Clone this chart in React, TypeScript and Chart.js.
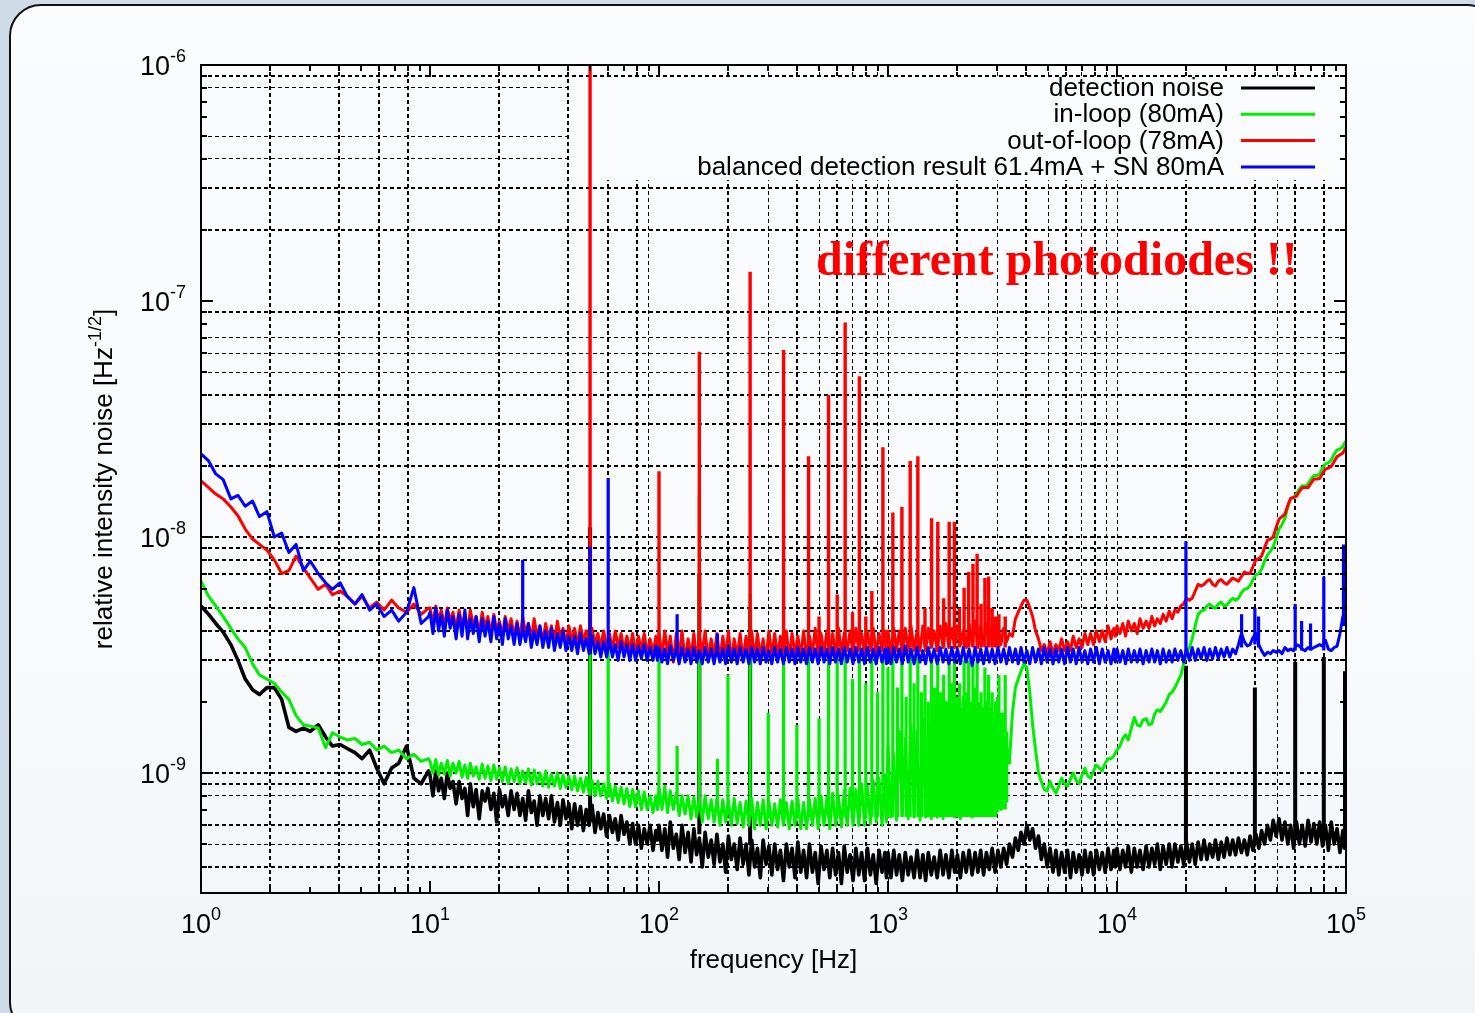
import React, { useEffect, useRef } from "react";
import { Chart, registerables } from "chart.js";
Chart.register(...registerables);

const SANS = '"Liberation Sans", Arial, Helvetica, sans-serif';
const SERIF = '"Liberation Serif", "Times New Roman", serif';

// ---- frequency grid (Hz) ----
const mantFirst = [1, 1.08, 1.16, 1.25, 1.35, 1.45, 1.56, 1.68, 1.8, 1.94, 2.09, 2.25, 2.42, 2.6, 2.8, 3.0, 3.25, 3.5, 3.75, 4.05, 4.35, 4.7, 5.05, 5.45, 5.85, 6.3, 6.8, 7.3, 7.9, 8.5, 9.15, 9.85];
const mantDecade = [
  1, 1.03, 1.06, 1.09, 1.12, 1.155, 1.19, 1.225, 1.26, 1.3,
  1.34, 1.38, 1.42, 1.46, 1.5, 1.545, 1.59, 1.64, 1.69, 1.74,
  1.79, 1.845, 1.9, 1.955, 2.01, 2.07, 2.13, 2.195, 2.26, 2.33,
  2.4, 2.47, 2.54, 2.615, 2.69, 2.77, 2.85, 2.935, 3.02, 3.11,
  3.2, 3.295, 3.39, 3.495, 3.6, 3.705, 3.81, 3.925, 4.04, 4.16,
  4.28, 4.41, 4.54, 4.675, 4.81, 4.955, 5.1, 5.255, 5.41, 5.57,
  5.73, 5.905, 6.08, 6.26, 6.44, 6.635, 6.83, 7.035, 7.24, 7.455,
  7.67, 7.9, 8.13, 8.375, 8.62, 8.88, 9.14, 9.415, 9.69, 9.845,
];
const decadeStarts = [10, 100, 1000, 10000];
const lastFreq = 100000;

// ---- series values, units of 1e-9 Hz^-1/2 ----
// detection noise (black)
const blackD1 = [5.1, 4.7, 4.3, 3.95, 3.5, 3.0, 2.5, 2.25, 2.15, 2.3, 2.3, 2.05, 1.56, 1.5, 1.55, 1.5, 1.6, 1.42, 1.3, 1.32, 1.27, 1.22, 1.15, 1.25, 1.05, 0.9, 1.05, 1.1, 1.3, 0.95, 0.9, 1.02];
const blackD2 = [
  0.98, 0.8, 1.02, 0.84, 0.95, 0.78, 1.0, 0.86, 0.92, 0.74,
  0.92, 0.78, 0.86, 0.66, 0.9, 0.72, 0.85, 0.64, 0.84, 0.76,
  0.86, 0.7, 0.82, 0.62, 0.85, 0.72, 0.8, 0.66, 0.84, 0.7,
  0.82, 0.66, 0.78, 0.63, 0.84, 0.68, 0.76, 0.6, 0.8, 0.66,
  0.78, 0.64, 0.8, 0.62, 0.75, 0.6, 0.77, 0.64, 0.74, 0.58,
  0.74, 0.6, 0.72, 0.57, 0.7, 0.6, 0.73, 0.56, 0.68, 0.58,
  0.67, 0.54, 0.66, 0.56, 0.64, 0.52, 0.66, 0.55, 0.62, 0.5,
  0.61, 0.5, 0.6, 0.48, 0.58, 0.5, 0.6, 0.47, 0.57, 0.52,
];
const blackD3 = [
  0.6, 0.47, 0.58, 0.44, 0.62, 0.48, 0.55, 0.43, 0.6, 0.46,
  0.56, 0.42, 0.58, 0.45, 0.53, 0.4, 0.56, 0.44, 0.52, 0.41,
  0.55, 0.42, 0.5, 0.38, 0.54, 0.43, 0.5, 0.39, 0.53, 0.41,
  0.5, 0.37, 0.52, 0.4, 0.48, 0.36, 0.52, 0.41, 0.49, 0.37,
  0.5, 0.39, 0.47, 0.35, 0.5, 0.4, 0.48, 0.36, 0.51, 0.38,
  0.47, 0.36, 0.5, 0.38, 0.46, 0.34, 0.49, 0.39, 0.47, 0.36,
  0.48, 0.37, 0.46, 0.34, 0.49, 0.38, 0.45, 0.35, 0.48, 0.37,
  0.46, 0.35, 0.48, 0.37, 0.45, 0.34, 0.47, 0.38, 0.46, 0.36,
];
const blackD4 = [
  0.46, 0.36, 0.47, 0.37, 0.45, 0.35, 0.46, 0.37, 0.44, 0.36,
  0.47, 0.36, 0.45, 0.35, 0.46, 0.37, 0.44, 0.36, 0.47, 0.37,
  0.45, 0.36, 0.47, 0.38, 0.45, 0.36, 0.46, 0.38, 0.47, 0.37,
  0.46, 0.38, 0.47, 0.37, 0.46, 0.39, 0.48, 0.38, 0.47, 0.4,
  0.48, 0.41, 0.5, 0.44, 0.53, 0.47, 0.56, 0.5, 0.6, 0.52,
  0.58, 0.48, 0.54, 0.43, 0.5, 0.4, 0.48, 0.38, 0.47, 0.37,
  0.46, 0.38, 0.47, 0.36, 0.46, 0.38, 0.45, 0.37, 0.47, 0.38,
  0.46, 0.37, 0.47, 0.39, 0.46, 0.38, 0.48, 0.39, 0.47, 0.4,
];
const blackD5 = [
  0.48, 0.39, 0.47, 0.4, 0.49, 0.38, 0.48, 0.4, 0.47, 0.39,
  0.49, 0.4, 0.48, 0.41, 0.5, 0.39, 0.49, 0.41, 0.5, 0.4,
  0.5, 0.42, 0.49, 0.41, 0.51, 0.42, 0.5, 0.41, 0.51, 0.43,
  0.52, 0.43, 0.5, 0.44, 0.52, 0.43, 0.51, 0.44, 0.53, 0.45,
  0.52, 0.45, 0.53, 0.46, 0.52, 0.45, 0.54, 0.47, 0.55, 0.48,
  0.57, 0.5, 0.6, 0.52, 0.63, 0.54, 0.64, 0.52, 0.62, 0.5,
  0.6, 0.48, 0.62, 0.5, 0.6, 0.49, 0.63, 0.51, 0.61, 0.5,
  0.62, 0.49, 0.6, 0.47, 0.62, 0.5, 0.58, 0.46, 0.57, 0.48,
  0.52,
];

// in-loop (green)
const greenD1 = [6.5, 5.6, 5.1, 4.6, 4.1, 3.7, 3.4, 2.9, 2.6, 2.5, 2.4, 2.2, 2.05, 1.75, 1.6, 1.58, 1.55, 1.28, 1.48, 1.42, 1.38, 1.4, 1.32, 1.35, 1.25, 1.3, 1.22, 1.25, 1.15, 1.2, 1.12, 1.15];
const greenD2 = [
  1.12, 1.0, 1.14, 0.98, 1.1, 0.99, 1.13, 0.97, 1.1, 1.0,
  1.12, 0.96, 1.08, 0.95, 1.1, 0.97, 1.06, 0.94, 1.09, 0.95,
  1.07, 0.93, 1.08, 0.94, 1.05, 0.92, 1.06, 0.9, 1.04, 0.92,
  1.05, 0.9, 1.02, 0.91, 1.04, 0.89, 1.03, 0.9, 1.0, 0.88,
  1.02, 0.87, 0.99, 0.88, 1.0, 0.86, 0.98, 0.87, 0.97, 0.85,
  0.97, 0.84, 0.95, 0.83, 0.96, 0.82, 0.93, 0.8, 0.92, 0.8,
  0.9, 0.78, 0.9, 0.76, 0.88, 0.75, 0.87, 0.74, 0.86, 0.72,
  0.85, 0.72, 0.84, 0.7, 0.83, 0.7, 0.8, 0.68, 0.8, 0.7,
];
const greenD3 = [
  0.86, 0.7, 0.88, 0.68, 0.84, 0.7, 0.82, 0.66, 0.8, 0.67,
  0.8, 0.64, 0.79, 0.65, 0.78, 0.62, 0.8, 0.64, 0.77, 0.62,
  0.78, 0.6, 0.77, 0.62, 0.76, 0.6, 0.78, 0.61, 0.75, 0.59,
  0.76, 0.6, 0.78, 0.58, 0.75, 0.6, 0.77, 0.58, 0.76, 0.6,
  0.74, 0.59, 0.77, 0.6, 0.75, 0.58, 0.76, 0.6, 0.78, 0.58,
  0.75, 0.58, 0.77, 0.6, 0.78, 0.58, 0.8, 0.6, 0.79, 0.58,
  0.82, 0.6, 0.8, 0.59, 0.84, 0.6, 0.86, 0.6, 0.85, 0.6,
  0.9, 0.6, 0.88, 0.61, 0.93, 0.62, 0.95, 0.6, 0.98, 0.62,
];
const greenD4 = [
  1.3, 0.65, 1.2, 0.63, 1.5, 0.66, 1.4, 0.64, 1.6, 0.65,
  1.5, 0.63, 1.7, 0.65, 1.6, 0.64, 1.8, 0.65, 1.7, 0.64,
  2.0, 0.66, 1.8, 0.65, 1.9, 0.64, 2.1, 0.66, 2.0, 0.65,
  2.1, 0.66, 1.9, 0.67, 2.0, 0.68, 1.8, 0.69, 1.7, 0.7,
  1.5, 1.3, 1.1, 1.8, 2.3, 2.5, 2.7, 2.9, 2.8, 2.2,
  1.6, 1.25, 1.0, 0.92, 0.85, 0.84, 0.92, 0.86, 0.82, 0.88,
  0.95, 0.9, 0.88, 0.94, 1.0, 0.93, 0.9, 0.98, 1.05, 0.97,
  0.95, 1.02, 1.08, 1.05, 1.02, 1.1, 1.15, 1.15, 1.18, 1.22,
];
const greenD5 = [
  1.25, 1.3, 1.4, 1.45, 1.38, 1.55, 1.72, 1.6, 1.58, 1.68,
  1.7, 1.6, 1.62, 1.78, 1.85, 1.82, 1.9, 2.0, 2.15, 2.2,
  2.3, 2.45, 2.6, 2.9, 3.2, 3.4, 3.7, 4.2, 4.7, 4.85,
  4.9, 5.1, 5.2, 5.05, 5.0, 5.2, 5.3, 5.1, 5.15, 5.35,
  5.5, 5.4, 5.5, 5.8, 6.0, 6.05, 6.2, 6.6, 6.9, 7.0,
  7.3, 7.9, 8.4, 8.7, 9.1, 9.9, 10.8, 11.3, 12.0, 13.4,
  14.5, 14.7, 15.2, 16.0, 16.5, 16.4, 16.8, 17.6, 18.2, 18.2,
  18.5, 19.6, 20.4, 20.6, 21.2, 22.4, 23.4, 23.6, 24.2, 25.0,
  25.5,
];

// out-of-loop (red)
const redD1 = [17.3, 16.2, 15.2, 14.5, 13.4, 12.3, 10.8, 9.8, 9.3, 8.8, 8.0, 7.0, 7.2, 8.3, 7.4, 6.7, 6.0, 6.3, 5.7, 5.9, 5.6, 5.2, 5.6, 5.0, 5.3, 4.9, 5.4, 5.0, 4.8, 5.2, 4.7, 5.0];
const redD2 = [
  5.0, 4.3, 5.1, 4.4, 4.9, 4.2, 5.0, 4.4, 4.8, 4.1,
  4.9, 4.2, 4.7, 4.0, 4.9, 4.2, 4.6, 3.9, 4.8, 4.1,
  4.6, 3.9, 4.7, 4.0, 4.4, 3.8, 4.6, 4.0, 4.5, 3.8,
  4.4, 3.7, 4.6, 3.9, 4.3, 3.7, 4.5, 3.8, 4.2, 3.6,
  4.3, 3.7, 4.2, 3.6, 4.4, 3.7, 4.1, 3.5, 4.2, 3.6,
  4.1, 3.5, 4.2, 3.6, 4.0, 3.4, 4.1, 3.5, 3.9, 3.4,
  4.0, 3.4, 3.9, 3.3, 4.0, 3.4, 3.9, 3.3, 3.8, 3.3,
  3.9, 3.2, 3.8, 3.3, 3.9, 3.2, 3.7, 3.2, 3.8, 3.1,
];
const redD3 = [
  3.9, 3.1, 4.0, 3.2, 3.8, 2.95, 3.9, 3.1, 4.0, 3.0,
  3.7, 3.1, 3.9, 2.95, 3.8, 3.2, 4.0, 3.0, 3.7, 3.1,
  3.9, 3.0, 3.8, 3.1, 4.0, 2.95, 3.7, 3.1, 3.9, 3.0,
  3.8, 3.2, 4.0, 3.0, 3.9, 3.1, 3.7, 3.0, 4.0, 3.1,
  3.9, 3.1, 3.8, 3.2, 4.0, 3.0, 3.9, 3.2, 3.8, 3.1,
  4.0, 3.1, 3.8, 3.2, 4.1, 3.1, 3.9, 3.2, 4.0, 3.2,
  3.9, 3.2, 4.1, 3.2, 3.9, 3.3, 4.0, 3.2, 4.1, 3.3,
  3.9, 3.2, 4.0, 3.3, 4.1, 3.2, 3.9, 3.3, 4.0, 3.3,
];
const redD4 = [
  4.0, 3.2, 4.1, 3.3, 4.0, 3.2, 4.1, 3.3, 4.2, 3.3,
  4.0, 3.3, 4.2, 3.3, 4.1, 3.4, 4.0, 3.3, 4.2, 3.4,
  4.3, 3.4, 4.1, 3.4, 4.2, 3.5, 4.0, 3.4, 4.3, 3.5,
  4.4, 3.4, 4.2, 3.5, 4.3, 3.5, 4.2, 3.6, 4.3, 3.5,
  4.1, 3.6, 3.9, 3.8, 4.5, 4.8, 5.1, 5.4, 5.4, 5.0,
  4.6, 4.0, 3.7, 3.3, 3.5, 3.2, 3.6, 3.2, 3.5, 3.3,
  3.7, 3.3, 3.6, 3.3, 3.8, 3.4, 3.7, 3.4, 3.9, 3.5,
  3.9, 3.5, 4.0, 3.6, 4.0, 3.6, 4.2, 3.7, 4.1, 3.8,
];
const redD5 = [
  4.2, 3.9, 4.3, 3.8, 4.4, 4.0, 4.3, 3.9, 4.5, 4.1,
  4.4, 4.1, 4.6, 4.2, 4.5, 4.3, 4.7, 4.4, 4.85, 4.5,
  4.9, 4.8, 5.1, 5.2, 5.5, 5.4, 5.5, 5.9, 6.3, 6.2,
  6.3, 6.5, 6.6, 6.3, 6.2, 6.5, 6.6, 6.4, 6.3, 6.5,
  6.7, 6.6, 6.5, 6.8, 7.1, 7.0, 7.0, 7.5, 8.0, 8.1,
  8.3, 9.0, 9.7, 9.8, 10.0, 11.0, 11.9, 12.2, 12.5, 13.6,
  14.6, 14.7, 14.9, 15.6, 16.2, 16.2, 16.2, 16.9, 17.6, 17.6,
  17.7, 18.6, 19.4, 19.6, 19.9, 20.9, 21.9, 22.3, 22.7, 23.4,
  24.0,
];

// balanced detection (blue)
const blueD1 = [22.5, 21.0, 18.5, 17.5, 14.5, 15.0, 13.5, 14.2, 12.2, 12.8, 10.0, 10.4, 8.6, 9.3, 7.2, 7.9, 7.0, 6.4, 6.0, 6.4, 5.6, 5.2, 5.7, 4.9, 5.2, 4.6, 4.9, 4.4, 4.8, 6.1, 4.3, 4.6];
const blueD2 = [
  4.8, 3.9, 5.0, 4.0, 4.7, 3.8, 4.9, 4.1, 4.6, 3.7,
  4.7, 3.8, 4.9, 3.7, 4.5, 3.9, 4.6, 3.6, 4.5, 3.8,
  4.4, 3.6, 4.6, 3.7, 4.3, 3.5, 4.5, 3.7, 4.2, 3.5,
  4.3, 3.5, 4.1, 3.6, 4.3, 3.4, 4.0, 3.5, 4.2, 3.4,
  4.0, 3.4, 4.1, 3.3, 3.9, 3.4, 4.0, 3.3, 3.8, 3.3,
  3.8, 3.2, 3.9, 3.3, 3.7, 3.2, 3.8, 3.2, 3.6, 3.1,
  3.6, 3.1, 3.7, 3.1, 3.5, 3.0, 3.6, 3.1, 3.5, 3.0,
  3.5, 3.0, 3.45, 3.05, 3.5, 3.0, 3.4, 3.0, 3.45, 3.0,
];
const blueD3 = [
  3.4, 2.95, 3.35, 2.9, 3.45, 3.0, 3.35, 2.9, 3.4, 2.95,
  3.35, 2.9, 3.4, 2.95, 3.3, 2.9, 3.4, 2.95, 3.35, 2.9,
  3.4, 2.95, 3.35, 2.9, 3.45, 2.95, 3.35, 2.9, 3.4, 2.95,
  3.35, 2.9, 3.4, 2.95, 3.35, 2.9, 3.4, 2.95, 3.3, 2.9,
  3.4, 2.95, 3.35, 2.9, 3.4, 2.95, 3.35, 2.9, 3.4, 2.95,
  3.35, 2.9, 3.4, 2.95, 3.35, 2.9, 3.4, 2.95, 3.35, 2.9,
  3.4, 2.95, 3.35, 2.9, 3.4, 2.95, 3.35, 2.9, 3.4, 2.95,
  3.35, 2.9, 3.4, 2.95, 3.35, 2.9, 3.4, 2.95, 3.35, 2.9,
];
const blueD4 = [
  3.35, 2.9, 3.4, 2.95, 3.35, 2.9, 3.45, 2.95, 3.35, 2.9,
  3.4, 2.95, 3.3, 2.9, 3.4, 2.95, 3.35, 2.9, 3.4, 2.95,
  3.35, 2.9, 3.4, 2.95, 3.35, 2.9, 3.4, 2.95, 3.35, 2.85,
  3.4, 2.95, 3.35, 2.9, 3.4, 2.95, 3.35, 2.9, 3.4, 2.95,
  3.35, 2.9, 3.4, 2.95, 3.35, 2.9, 3.4, 2.95, 3.3, 2.9,
  3.4, 2.95, 3.35, 2.9, 3.4, 2.95, 3.35, 2.9, 3.35, 2.95,
  3.35, 2.9, 3.4, 2.95, 3.35, 2.9, 3.4, 2.95, 3.3, 2.9,
  3.35, 2.95, 3.4, 2.9, 3.35, 2.95, 3.3, 2.9, 3.35, 2.95,
];
const blueD5 = [
  3.35, 2.95, 3.3, 2.9, 3.35, 2.95, 3.3, 2.95, 3.35, 2.9,
  3.3, 2.95, 3.35, 2.95, 3.3, 2.9, 3.35, 2.95, 3.3, 2.95,
  3.35, 3.0, 3.3, 2.95, 3.35, 3.0, 3.4, 3.0, 3.35, 3.05,
  3.4, 3.0, 3.35, 3.05, 3.4, 3.05, 3.35, 3.1, 3.4, 3.1,
  3.35, 3.2, 3.5, 3.9, 3.6, 3.45, 3.5, 3.75, 3.9, 3.5,
  3.3, 3.15, 3.25, 3.2, 3.3, 3.25, 3.3, 3.2, 3.4, 3.3,
  3.35, 3.3, 3.5, 3.45, 3.35, 3.3, 3.4, 3.35, 3.4, 3.45,
  3.5, 3.45, 3.65, 3.35, 3.3, 3.4, 3.45, 3.9, 4.6, 4.5,
  4.4,
];

// ---- narrow lines: [frequency Hz, foot, peak] in 1e-9 units ----
const blackSpikes = [[50, 0.62, 11], [150, 0.55, 7], [250, 0.5, 5], [20000, 0.5, 2.85], [40000, 0.52, 2.3], [60000, 0.52, 2.95], [80000, 0.55, 3.1], [99000, 0.52, 2.7]];
const greenSpikes = [[50, 0.8, 3.2], [60, 0.8, 3.3], [100, 0.8, 3.1], [120, 0.75, 1.3], [150, 0.7, 15], [180, 0.7, 1.15], [200, 0.7, 2.6], [250, 0.65, 5.8], [300, 0.65, 1.8], [350, 0.65, 3.1], [400, 0.65, 1.6], [450, 0.65, 3.1], [500, 0.65, 1.7], [550, 0.65, 3.1], [600, 0.65, 3.0], [650, 0.65, 3.1], [700, 0.65, 2.5], [750, 0.65, 3.1], [800, 0.65, 2.4], [850, 0.65, 3.1], [900, 0.65, 2.2], [950, 0.65, 3.0], [1000, 0.65, 2.8], [1050, 0.65, 3.1], [1100, 0.65, 2.3], [1150, 0.65, 3.0], [1200, 0.65, 2.1], [1250, 0.65, 3.1], [1300, 0.65, 2.4], [1350, 0.65, 3.1], [1400, 0.65, 2.2], [1450, 0.65, 2.6], [1500, 0.65, 2.0], [1550, 0.65, 3.0], [1600, 0.65, 2.3], [1650, 0.65, 3.0], [1700, 0.65, 2.2], [1750, 0.65, 2.6], [1800, 0.65, 2.0], [1850, 0.65, 3.0], [1900, 0.65, 2.4], [1950, 0.65, 3.0], [2000, 0.65, 2.1], [2050, 0.65, 2.4], [2100, 0.65, 1.9], [2150, 0.65, 3.0], [2200, 0.65, 2.2], [2250, 0.65, 3.0], [2300, 0.65, 2.0], [2350, 0.65, 3.0], [2400, 0.65, 2.3], [2450, 0.65, 3.0], [2500, 0.65, 2.0], [2550, 0.65, 2.2], [2600, 0.65, 1.9], [2650, 0.65, 2.8], [2700, 0.65, 2.0], [2750, 0.65, 2.6], [2800, 0.65, 1.9], [2850, 0.65, 2.2], [2900, 0.65, 1.8], [2950, 0.65, 2.0], [3000, 0.68, 2.1], [3050, 0.7, 2.6], [3100, 0.7, 1.7], [3150, 0.7, 1.8], [3200, 0.7, 1.6], [3250, 0.7, 2.6], [3300, 0.75, 1.5]];
const redSpikes = [[50, 3.6, 1000], [100, 3.5, 19], [150, 3.4, 61], [250, 3.4, 133], [350, 3.4, 62], [450, 3.4, 22], [500, 3.4, 4.6], [550, 3.4, 40], [600, 3.4, 5.7], [650, 3.4, 81], [700, 3.4, 4.8], [750, 3.4, 48], [800, 3.4, 4.6], [850, 3.4, 5.9], [950, 3.4, 24], [1050, 3.4, 12.7], [1150, 3.4, 13.4], [1250, 3.4, 21], [1350, 3.4, 22], [1450, 3.4, 5], [1550, 3.4, 12], [1650, 3.4, 11.6], [1750, 3.4, 5.5], [1850, 3.4, 11.6], [1950, 3.4, 11.6], [2050, 3.4, 5], [2150, 3.4, 6.1], [2250, 3.4, 7.1], [2350, 3.4, 7.7], [2450, 3.4, 8.5], [2550, 3.4, 5.2], [2650, 3.4, 6.7], [2750, 3.4, 6.8], [2850, 3.4, 5], [2950, 3.4, 4.6], [3050, 3.4, 4.7], [3250, 3.4, 4.6]];
const blueSpikes = [[25.4, 3.8, 8.0], [50, 3.4, 9.1], [60, 3.3, 17.8], [120, 3.2, 4.7], [180, 3.1, 3.9], [20000, 3.2, 9.6], [35000, 3.4, 4.7], [40000, 3.5, 5.0], [41500, 3.4, 4.6], [60000, 3.3, 5.2], [64000, 3.3, 4.4], [70000, 3.3, 4.3], [80000, 3.3, 6.8], [97500, 4.2, 9.3]];

// ---- legend / labels ----
const seriesNames = ["detection noise", "in-loop (80mA)", "out-of-loop (78mA)", "balanced detection result 61.4mA + SN 80mA"];
const seriesColors = ["#000000", "#00ee00", "#ff0000", "#0000ff"];
const xTitle = "frequency [Hz]";
const yTitleMain = "relative intensity noise [Hz";
const yTitleSup = "-1/2";
const yTitleEnd = "]";
const annotation = "different photodiodes !!";

const xTickValues = [1, 2, 3, 4, 5, 6, 7, 8, 9, 10, 20, 30, 40, 50, 60, 70, 80, 90, 100, 200, 300, 400, 500, 600, 700, 800, 900, 1000, 2000, 3000, 4000, 5000, 6000, 7000, 8000, 9000, 10000, 20000, 30000, 40000, 50000, 60000, 70000, 80000, 90000, 100000];
const yTickValues = [4e-10, 5e-10, 6e-10, 7e-10, 8e-10, 9e-10, 1e-9, 2e-9, 3e-9, 4e-9, 5e-9, 6e-9, 7e-9, 8e-9, 9e-9, 1e-8, 2e-8, 3e-8, 4e-8, 5e-8, 6e-8, 7e-8, 8e-8, 9e-8, 1e-7, 2e-7, 3e-7, 4e-7, 5e-7, 6e-7, 7e-7, 8e-7, 9e-7, 1e-6];
const xGridThick = [2, 4, 6, 8, 20, 40, 60, 80, 200, 400, 600, 800, 2000, 4000, 6000, 8000, 20000, 40000, 60000, 80000];
const xGridThin = [90, 300, 500, 700, 900, 1000, 3000, 5000, 7000, 9000, 10000, 50000];
const yGridThick = [9e-7, 3e-7, 2e-7, 9e-8, 4e-8, 3e-8, 2e-8, 1e-8, 9e-9, 8e-9, 7e-9, 5e-9, 4e-9, 3e-9, 1e-9, 9e-10, 6e-10, 4e-10];
const yGridThin = [8e-7, 5e-7, 4e-7, 7e-8, 6e-8, 5e-8, 8e-10, 5e-10];
const xLabelExps = [0, 1, 2, 3, 4, 5];
const yLabelExps = [-9, -8, -7, -6];

const Y_MIN = 3.1e-10;
const Y_MAX = 1e-6;
const UNIT = 1e-9;

const has = (arr: number[], v: number) => arr.some((a) => Math.abs(a - v) <= Math.abs(a) * 1e-6);
const isDecade = (v: number) => Math.abs(Math.log10(v) - Math.round(Math.log10(v))) < 1e-6;

const freqGrid: number[] = [
  ...mantFirst,
  ...decadeStarts.flatMap((d) => mantDecade.map((m) => m * d)),
  lastFreq,
];

function buildTrace(parts: number[][]) {
  const vals = parts.flat();
  const pts: { x: number; y: number }[] = [];
  freqGrid.forEach((f, i) => {
    if (i < vals.length) pts.push({ x: f, y: vals[i] * UNIT });
  });
  return pts;
}

function buildSpikes(list: number[][]) {
  const pts: { x: number; y: number | null }[] = [];
  for (const [f, foot, peak] of list) {
    pts.push({ x: f, y: foot * UNIT }, { x: f, y: peak * UNIT }, { x: f, y: null });
  }
  return pts;
}

const overlayPlugin = {
  id: "gnuplotOverlay",
  beforeDatasetsDraw(chart: any) {
    const { ctx, chartArea: a } = chart;
    ctx.save();
    ctx.fillStyle = "#fafcfd";
    ctx.fillRect(a.left + 371, a.top + 13, a.right - a.left - 371, 102);
    ctx.restore();
  },
  afterDatasetsDraw(chart: any) {
    const { ctx, chartArea: a, scales } = chart;
    const xs = scales.x;
    const ys = scales.y;
    ctx.save();
    ctx.strokeStyle = "#000";
    ctx.fillStyle = "#000";
    ctx.lineWidth = 2;
    ctx.setLineDash([]);
    const seg = (x1: number, y1: number, x2: number, y2: number) => {
      ctx.beginPath();
      ctx.moveTo(x1, y1);
      ctx.lineTo(x2, y2);
      ctx.stroke();
    };
    for (const v of xTickValues) {
      const px = Math.round(xs.getPixelForValue(v));
      const len = isDecade(v) ? 12 : 6;
      seg(px, a.bottom, px, a.bottom - len);
      seg(px, a.top, px, a.top + len);
    }
    for (const v of yTickValues) {
      const py = Math.round(ys.getPixelForValue(v));
      const len = isDecade(v) ? 12 : 6;
      seg(a.left, py, a.left + len, py);
      seg(a.right, py, a.right - len, py);
    }
    ctx.strokeRect(a.left, a.top, a.right - a.left, a.bottom - a.top);

    const baseFont = `27px ${SANS}`;
    const supFont = `18px ${SANS}`;
    ctx.textBaseline = "alphabetic";
    ctx.textAlign = "left";
    for (const e of xLabelExps) {
      const px = xs.getPixelForValue(Math.pow(10, e));
      const s = String(e);
      ctx.font = baseFont;
      const w1 = ctx.measureText("10").width;
      ctx.font = supFont;
      const w2 = ctx.measureText(s).width;
      const left = px - (w1 + w2) / 2;
      ctx.font = baseFont;
      ctx.fillText("10", left, a.bottom + 40);
      ctx.font = supFont;
      ctx.fillText(s, left + w1, a.bottom + 27);
    }
    for (const e of yLabelExps) {
      const py = ys.getPixelForValue(Math.pow(10, e));
      const s = String(e);
      ctx.font = supFont;
      const w2 = ctx.measureText(s).width;
      ctx.font = baseFont;
      const w1 = ctx.measureText("10").width;
      const right = a.left - 15;
      ctx.fillText("10", right - w2 - w1, py + 10);
      ctx.font = supFont;
      ctx.fillText(s, right - w2, py - 3);
    }

    ctx.font = `26px ${SANS}`;
    ctx.textAlign = "center";
    ctx.fillText(xTitle, (a.left + a.right) / 2, a.bottom + 75);

    ctx.save();
    ctx.translate(112, (a.top + a.bottom) / 2);
    ctx.rotate(-Math.PI / 2);
    ctx.textAlign = "left";
    ctx.font = `26px ${SANS}`;
    const t1 = ctx.measureText(yTitleMain).width;
    const t3 = ctx.measureText(yTitleEnd).width;
    ctx.font = `18px ${SANS}`;
    const t2 = ctx.measureText(yTitleSup).width;
    const start = -(t1 + t2 + t3) / 2;
    ctx.font = `26px ${SANS}`;
    ctx.fillText(yTitleMain, start, 0);
    ctx.font = `18px ${SANS}`;
    ctx.fillText(yTitleSup, start + t1, -11);
    ctx.font = `26px ${SANS}`;
    ctx.fillText(yTitleEnd, start + t1 + t2, 0);
    ctx.restore();

    ctx.font = `26px ${SANS}`;
    ctx.textAlign = "right";
    ctx.textBaseline = "middle";
    seriesNames.forEach((name, i) => {
      const yy = a.top + 23 + i * 26.3;
      ctx.fillStyle = "#000";
      ctx.fillText(name, a.right - 122, yy + 1);
      ctx.strokeStyle = seriesColors[i];
      ctx.lineWidth = 3;
      seg(a.right - 105, yy, a.right - 31, yy);
    });

    ctx.font = `bold 48px ${SERIF}`;
    ctx.textAlign = "left";
    ctx.textBaseline = "alphabetic";
    ctx.fillStyle = "#ff0000";
    ctx.fillText(annotation, a.left + 615, a.top + 210);
    ctx.restore();
  },
};

const gridColor = (thick: number[], thin: number[]) => (c: any) => {
  const v = c.tick ? c.tick.value : NaN;
  return has(thick, v) || has(thin, v) ? "#000000" : "rgba(0,0,0,0)";
};
const gridWidth = (thick: number[]) => (c: any) => {
  const v = c.tick ? c.tick.value : NaN;
  return has(thick, v) ? 2 : 1;
};

export default function App() {
  const ref = useRef<HTMLCanvasElement>(null);
  useEffect(() => {
    document.body.style.margin = "0";
    const mk = (label: string, data: any[], color: string, width: number, order: number) => ({
      label,
      data,
      borderColor: color,
      backgroundColor: color,
      borderWidth: width,
      pointRadius: 0,
      fill: false,
      order,
      spanGaps: false,
      borderJoinStyle: "round",
      tension: 0,
    });
    const datasets = [
      mk(seriesNames[0], buildTrace([blackD1, blackD2, blackD3, blackD4, blackD5]), seriesColors[0], 3.6, 8),
      mk("black lines", buildSpikes(blackSpikes), seriesColors[0], 4, 7),
      mk(seriesNames[1], buildTrace([greenD1, greenD2, greenD3, greenD4, greenD5]), seriesColors[1], 3, 6),
      mk("green lines", buildSpikes(greenSpikes), seriesColors[1], 3.2, 5),
      mk(seriesNames[2], buildTrace([redD1, redD2, redD3, redD4, redD5]), seriesColors[2], 3, 4),
      mk("red lines", buildSpikes(redSpikes), seriesColors[2], 3.4, 3),
      mk(seriesNames[3], buildTrace([blueD1, blueD2, blueD3, blueD4, blueD5]), seriesColors[3], 3, 2),
      mk("blue lines", buildSpikes(blueSpikes), seriesColors[3], 3.2, 1),
    ];
    const chart = new Chart(ref.current as HTMLCanvasElement, {
      type: "line",
      data: { datasets } as any,
      options: {
        responsive: false,
        animation: false,
        devicePixelRatio: 1,
        events: [],
        layout: { padding: { left: 201, top: 65, right: 129, bottom: 120 } },
        plugins: { legend: { display: false }, tooltip: { enabled: false } },
        scales: {
          x: {
            type: "logarithmic",
            min: 1,
            max: 100000,
            afterBuildTicks: (s: any) => {
              s.ticks = xTickValues.map((v) => ({ value: v }));
            },
            afterFit: (s: any) => {
              s.height = 0;
            },
            ticks: { display: false },
            grid: { drawTicks: false, color: gridColor(xGridThick, xGridThin), lineWidth: gridWidth(xGridThick) },
            border: { display: false, dash: [4, 3] },
          },
          y: {
            type: "logarithmic",
            min: Y_MIN,
            max: Y_MAX,
            afterBuildTicks: (s: any) => {
              s.ticks = yTickValues.map((v) => ({ value: v }));
            },
            afterFit: (s: any) => {
              s.width = 0;
            },
            ticks: { display: false },
            grid: { drawTicks: false, color: gridColor(yGridThick, yGridThin), lineWidth: gridWidth(yGridThick) },
            border: { display: false, dash: [4, 3] },
          },
        },
      } as any,
      plugins: [overlayPlugin as any],
    });
    return () => chart.destroy();
  }, []);

  return (
    <div style={{ position: "relative", width: 1475, height: 1013, overflow: "hidden", background: "#cfdce7" }}>
      <div
        style={{
          position: "absolute",
          left: 9,
          top: 4,
          width: 1490,
          height: 1030,
          boxSizing: "border-box",
          border: "2px solid #111",
          borderRadius: 32,
          background: "linear-gradient(to bottom, #fbfcfd 0%, #f8fafb 60%, #f1f5f8 100%)",
        }}
      />
      <canvas ref={ref} width={1475} height={1013} style={{ position: "absolute", left: 0, top: 0 }} />
    </div>
  );
}
